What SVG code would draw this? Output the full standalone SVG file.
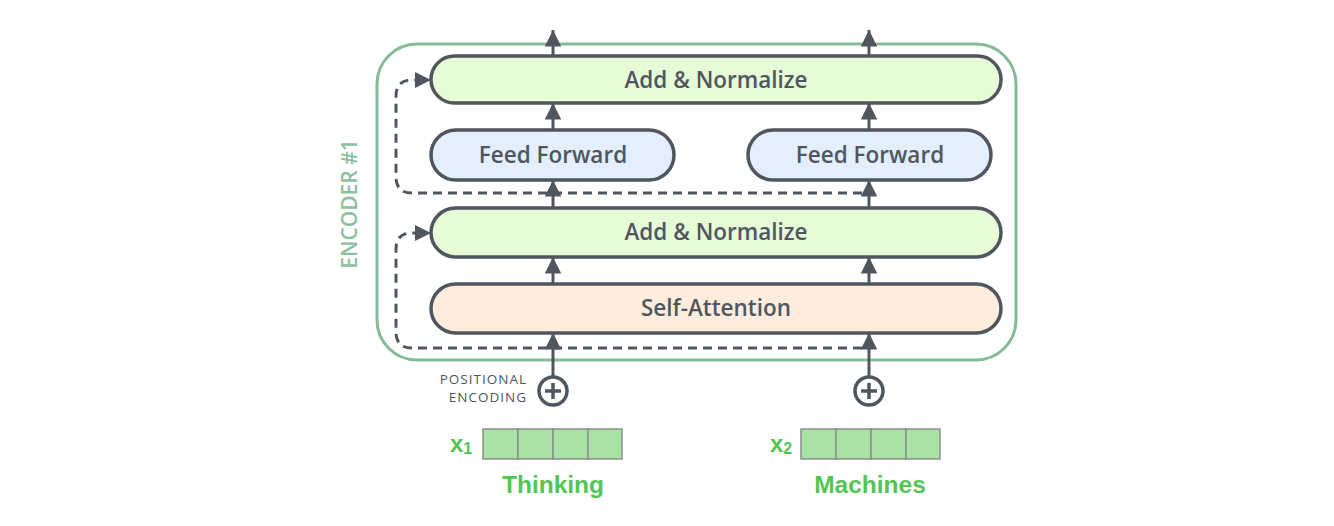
<svg xmlns="http://www.w3.org/2000/svg" width="1334" height="526" viewBox="0 0 1334 526">
<defs>
<marker id="ah" viewBox="0 0 10 10" refX="10" refY="5" markerWidth="5.5" markerHeight="5.5" orient="auto" markerUnits="strokeWidth">
<path d="M0,0 L10,5 L0,10 z" fill="#50565e"/>
</marker>
<style>
.box{stroke:#50565e;stroke-width:3.5}
.an{fill:#e6fcd6}
.ff{fill:#e3effc}
.sa{fill:#feeddd}
.lbl{font-family:"Open Sans","Noto Sans",sans-serif;font-size:22.5px;font-weight:600;fill:#4f5660;text-anchor:middle}
.ln{stroke:#50565e;stroke-width:3;fill:none}
.dash{stroke:#50565e;stroke-width:3;fill:none;stroke-dasharray:9 6}
.cell{fill:#a8e3a4;stroke:#8a8f8a;stroke-width:1.5}
.grn{font-family:"Liberation Sans",Arial,sans-serif;font-weight:bold;fill:#52c652}
.pe{font-family:"Open Sans","Noto Sans",sans-serif;font-size:13.5px;letter-spacing:1px;fill:#4f5660;text-anchor:end}
</style>
</defs>
<rect width="1334" height="526" fill="#ffffff"/>
<g id="encoder">
<rect x="377" y="44" width="639" height="316" rx="40" fill="none" stroke="#85bb97" stroke-width="3"/>
<text transform="translate(357,204) rotate(-90)" font-family="'Open Sans','Noto Sans',sans-serif" font-size="21" font-weight="600" fill="#8cc09f" text-anchor="middle">ENCODER #1</text>
</g>
<g id="connectors">
<line class="ln" x1="553" y1="56" x2="553" y2="30" marker-end="url(#ah)"/>
<line class="ln" x1="869" y1="56" x2="869" y2="30" marker-end="url(#ah)"/>
<line class="ln" x1="553" y1="130" x2="553" y2="103" marker-end="url(#ah)"/>
<line class="ln" x1="869" y1="130" x2="869" y2="103" marker-end="url(#ah)"/>
<line class="ln" x1="553" y1="207" x2="553" y2="180" marker-end="url(#ah)"/>
<line class="ln" x1="869" y1="207" x2="869" y2="180" marker-end="url(#ah)"/>
<line class="ln" x1="553" y1="283" x2="553" y2="257" marker-end="url(#ah)"/>
<line class="ln" x1="869" y1="283" x2="869" y2="257" marker-end="url(#ah)"/>
<line class="ln" x1="553" y1="377" x2="553" y2="333" marker-end="url(#ah)"/>
<line class="ln" x1="869" y1="377" x2="869" y2="333" marker-end="url(#ah)"/>
<path class="dash" d="M862,348 H412 Q396,348 396,332 V249 Q396,233 412,233 H418"/>
<path d="M415,225 L431,233 L415,241 z" fill="#50565e"/>
<path class="dash" d="M862,193 H412 Q396,193 396,177 V96 Q396,80 412,80 H418"/>
<path d="M415,72 L431,80 L415,88 z" fill="#50565e"/>
</g>
<g id="addnorm1">
<rect class="box an" x="431" y="56" width="570" height="47" rx="23.5"/>
<text class="lbl" x="716" y="88">Add &amp; Normalize</text>
</g>
<g id="ff1">
<rect class="box ff" x="431" y="130" width="243" height="50" rx="25"/>
<text class="lbl" x="553" y="163">Feed Forward</text>
</g>
<g id="ff2">
<rect class="box ff" x="748" y="130" width="243" height="50" rx="25"/>
<text class="lbl" x="870" y="163">Feed Forward</text>
</g>
<g id="addnorm2">
<rect class="box an" x="431" y="208" width="570" height="49" rx="24.5"/>
<text class="lbl" x="716" y="240">Add &amp; Normalize</text>
</g>
<g id="selfatt">
<rect class="box sa" x="431" y="284" width="570" height="49" rx="24.5"/>
<text class="lbl" x="716" y="316">Self-Attention</text>
</g>
<g id="pe1">
<circle cx="553" cy="391" r="14" fill="#fff" stroke="#50565e" stroke-width="3.5"/>
<path d="M545,391 H561 M553,383 V399" stroke="#50565e" stroke-width="3.5"/>
<text class="pe" x="527" y="384">POSITIONAL</text>
<text class="pe" x="527" y="402">ENCODING</text>
</g>
<g id="pe2">
<circle cx="869" cy="391" r="14" fill="#fff" stroke="#50565e" stroke-width="3.5"/>
<path d="M861,391 H877 M869,383 V399" stroke="#50565e" stroke-width="3.5"/>
</g>
<g id="x1">
<rect class="cell" x="483" y="429" width="35" height="30"/>
<rect class="cell" x="518" y="429" width="35" height="30"/>
<rect class="cell" x="553" y="429" width="35" height="30"/>
<rect class="cell" x="588" y="429" width="34" height="30"/>
<text class="grn" x="450" y="452" font-size="24">x<tspan font-size="16" dy="2">1</tspan></text>
<text class="grn" x="553" y="493" font-size="24.5" text-anchor="middle">Thinking</text>
</g>
<g id="x2">
<rect class="cell" x="801" y="429" width="35" height="30"/>
<rect class="cell" x="836" y="429" width="35" height="30"/>
<rect class="cell" x="871" y="429" width="35" height="30"/>
<rect class="cell" x="906" y="429" width="34" height="30"/>
<text class="grn" x="770" y="452" font-size="24">x<tspan font-size="16" dy="2">2</tspan></text>
<text class="grn" x="870" y="493" font-size="24.5" text-anchor="middle">Machines</text>
</g>
</svg>
